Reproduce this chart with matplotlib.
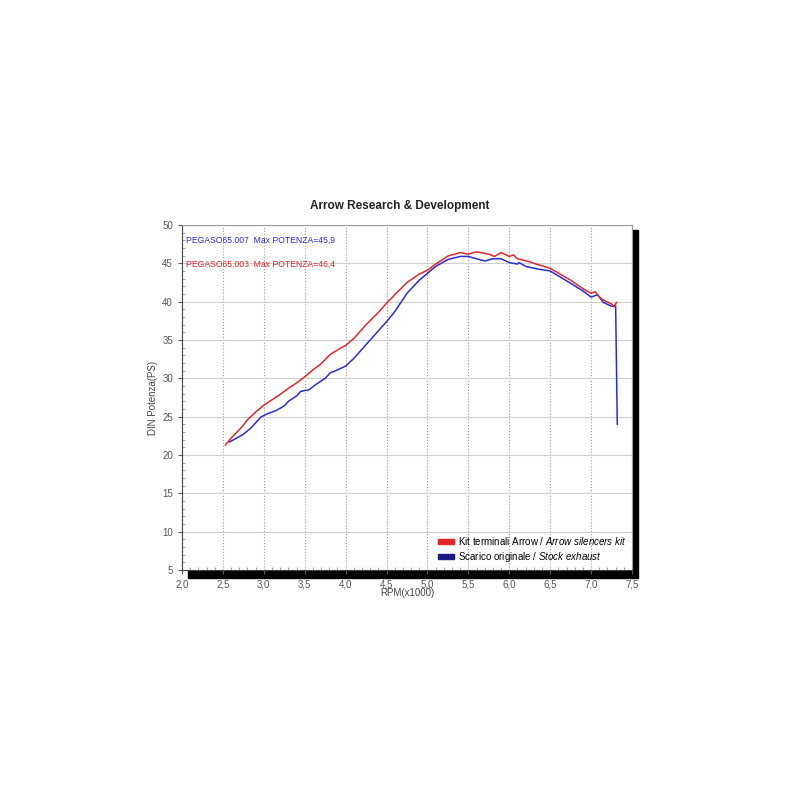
import matplotlib.pyplot as plt
from matplotlib.patches import Rectangle, Patch

plt.rcParams['font.family'] = 'Liberation Sans'
plt.rcParams['mathtext.fontset'] = 'custom'
plt.rcParams['mathtext.rm'] = 'Liberation Sans'
plt.rcParams['mathtext.it'] = 'Liberation Sans:italic'

# RPM (x1000) / power (PS)
rpm_arrow = [2.53, 2.6, 2.7, 2.75, 2.8, 2.9, 3.0, 3.1, 3.2, 3.3, 3.4, 3.5, 3.6, 3.7,
             3.81, 3.9, 4.0, 4.1, 4.25, 4.4, 4.5, 4.6, 4.75, 4.9, 5.0, 5.1, 5.25,
             5.4, 5.5, 5.6, 5.75, 5.82, 5.9, 6.0, 6.05, 6.1, 6.25, 6.33, 6.5, 6.75,
             6.9, 7.0, 7.05, 7.1, 7.15, 7.25, 7.28, 7.31]
ps_arrow = [21.3, 22.2, 23.3, 23.9, 24.6, 25.6, 26.5, 27.2, 27.9, 28.7, 29.4, 30.2,
            31.1, 31.9, 33.1, 33.7, 34.3, 35.2, 37.0, 38.6, 39.8, 40.9, 42.5, 43.6,
            44.1, 44.9, 45.95, 46.4, 46.2, 46.5, 46.2, 45.9, 46.4, 45.9, 46.1, 45.6,
            45.2, 44.9, 44.35, 42.8, 41.7, 41.1, 41.3, 40.6, 40.2, 39.7, 39.3, 39.9]

rpm_stock = [2.58, 2.65, 2.75, 2.85, 2.9, 2.97, 3.05, 3.15, 3.25, 3.3, 3.4, 3.45,
             3.55, 3.65, 3.75, 3.81, 3.9, 4.0, 4.1, 4.25, 4.4, 4.5, 4.6, 4.75, 4.9,
             5.0, 5.1, 5.25, 5.4, 5.5, 5.6, 5.7, 5.8, 5.9, 6.0, 6.1, 6.12, 6.2, 6.33,
             6.5, 6.75, 6.9, 7.0, 7.08, 7.15, 7.25, 7.3, 7.32]
ps_stock = [21.7, 22.1, 22.7, 23.6, 24.2, 25.0, 25.4, 25.8, 26.4, 27.0, 27.7, 28.3,
            28.5, 29.3, 30.0, 30.7, 31.1, 31.6, 32.6, 34.4, 36.2, 37.4, 38.7, 41.1,
            42.8, 43.7, 44.6, 45.5, 45.9, 45.9, 45.6, 45.3, 45.6, 45.6, 45.1, 44.9,
            45.1, 44.6, 44.3, 44.0, 42.4, 41.4, 40.6, 40.9, 39.9, 39.4, 39.5, 24.0]

xticks = [2.0, 2.5, 3.0, 3.5, 4.0, 4.5, 5.0, 5.5, 6.0, 6.5, 7.0, 7.5]
xticklabels = ['2,0', '2,5', '3,0', '3,5', '4,0', '4,5', '5,0', '5,5', '6,0', '6,5', '7,0', '7,5']
yticks = [5, 10, 15, 20, 25, 30, 35, 40, 45, 50]

RED = '#e3262b'
BLUE = '#2b2bd6'
NAVY = '#1c1c82'

fig = plt.figure(figsize=(8, 8), dpi=100)
ax = fig.add_axes([182/800, 1-570/800, 450/800, 345/800])

# drop shadow behind the plot box
fig.add_artist(Rectangle((188/800, 1-578/800), 450/800, 348/800,
                         transform=fig.transFigure, color='black', zorder=-1))

ax.plot(rpm_stock, ps_stock, color=BLUE, lw=1.1, zorder=3)
ax.plot(rpm_arrow, ps_arrow, color=RED, lw=1.1, zorder=3)

ax.set_xlim(2.0, 7.5)
ax.set_ylim(5, 50)
ax.set_xticks(xticks)
ax.set_xticklabels(xticklabels)
ax.set_yticks(yticks)
ax.set_xticks([2.0 + i*0.1 for i in range(56)], minor=True)
ax.set_yticks(range(5, 51), minor=True)
ax.tick_params(which='major', labelsize=7, colors='#555555', length=3)
ax.tick_params(axis='x', which='major', pad=4)
ax.tick_params(which='minor', direction='in', length=2, color='#999999')

ax.grid(axis='x', which='major', color='#9a9a9a', ls=':', lw=0.8)
ax.grid(axis='y', which='major', color='#cfcfcf', ls='-', lw=0.8)
ax.set_axisbelow(True)

for s in ['top', 'right']:
    ax.spines[s].set_color('#999999')
ax.spines['left'].set_color('#444444')
ax.spines['bottom'].set_color('#444444')

ax.set_xlabel('RPM(x1000)', fontsize=7, color='#444444', labelpad=-1)
ax.set_ylabel('DIN Potenza(PS)', fontsize=7, color='#444444', labelpad=3)
fig.text(0.5, 1-206/800, 'Arrow Research & Development', ha='center', va='center',
         fontsize=8.5, fontweight='bold', color='#222222')

ax.text(0.01, 0.955, 'PEGASO65.007  Max POTENZA=45,9', transform=ax.transAxes,
        fontsize=6.2, color=BLUE, va='center')
ax.text(0.01, 0.885, 'PEGASO65.003  Max POTENZA=46,4', transform=ax.transAxes,
        fontsize=6.2, color=RED, va='center')

handles = [Patch(color=RED, label=r'Kit terminali Arrow / $\mathit{Arrow\ silencers\ kit}$'),
           Patch(color=NAVY, label=r'Scarico originale / $\mathit{Stock\ exhaust}$')]
leg = ax.legend(handles=handles, loc='lower right', fontsize=7, frameon=False,
                handlelength=1.6, handleheight=0.5, handletextpad=0.4,
                labelspacing=0.35, borderaxespad=0.2, bbox_to_anchor=(1.0, 0.0))

fig.savefig('out.png', dpi=100, facecolor='white')
